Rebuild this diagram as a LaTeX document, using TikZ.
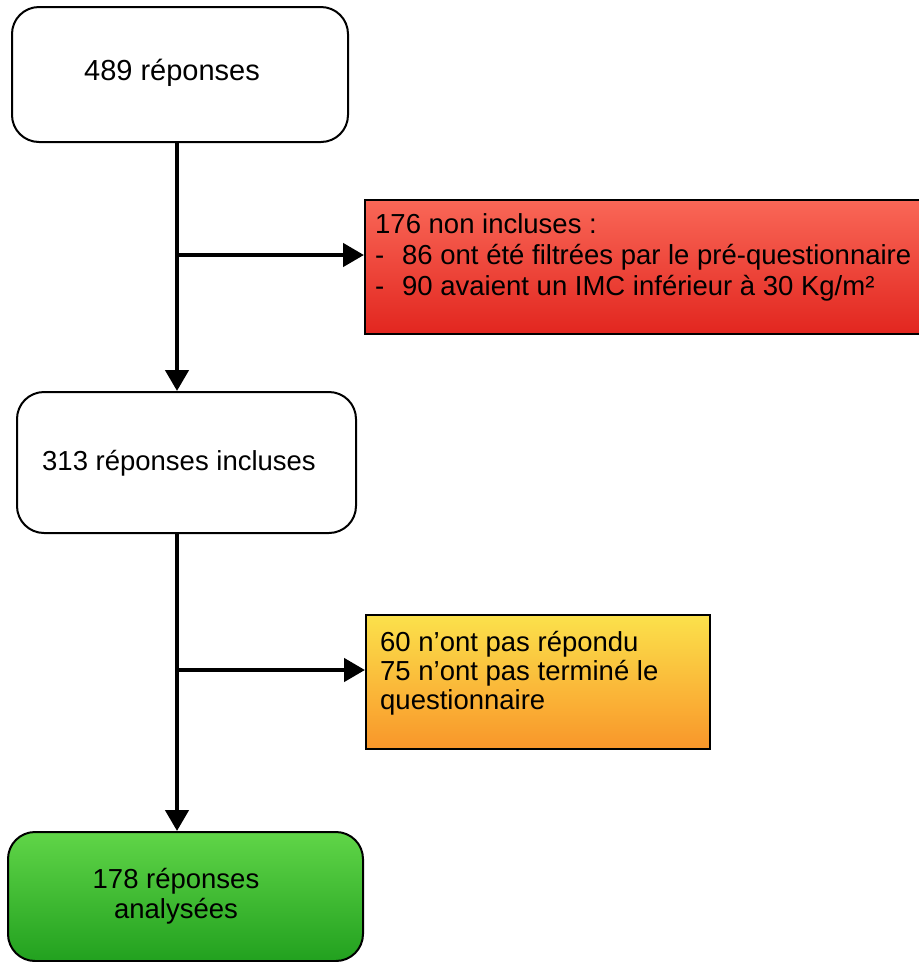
\documentclass[tikz,border=0pt]{standalone}
\usepackage{fontspec}
\setmainfont{Liberation Sans}
\usetikzlibrary{arrows.meta,shadings}
\definecolor{redtop}{HTML}{F96757}
\definecolor{redbot}{HTML}{E2261F}
\definecolor{orgtop}{HTML}{FBE14B}
\definecolor{orgbot}{HTML}{F9962A}
\definecolor{grntop}{HTML}{60D548}
\definecolor{grnbot}{HTML}{22A11F}
\tikzset{
  box/.style={draw=black, line width=2pt, rectangle, inner sep=0pt},
  roundbox/.style={box, rounded corners=27pt, fill=white},
  redbox/.style={box, top color=redtop, bottom color=redbot},
  orgbox/.style={box, top color=orgtop, bottom color=orgbot},
  grnbox/.style={box, rounded corners=27pt, top color=grntop, bottom color=grnbot},
  lbl/.style={font=\fontsize{27.5}{31}\selectfont, inner sep=0pt, anchor=base},
  lblw/.style={lbl, anchor=base west},
  flow/.style={line width=4.5pt, -{Triangle[length=21pt,width=23pt]}},
}
\begin{document}
\begin{tikzpicture}[x=1pt,y=-1pt]
\useasboundingbox (0,0) rectangle (919,962);
% boxes
\node[roundbox, minimum width=336pt, minimum height=135pt] (b1) at (180,74.5) {};
\node[roundbox, minimum width=339pt, minimum height=141pt] (b2) at (186.5,462.5) {};
\node[grnbox, minimum width=355pt, minimum height=129pt] (b3) at (185.5,896.5) {};
\node[redbox, minimum width=565pt, minimum height=134pt] (red) at (647.5,267) {};
\node[orgbox, minimum width=344pt, minimum height=134pt] (org) at (538,682) {};
% texts
\node[lbl, font=\fontsize{29}{31}\selectfont] (t1) at (172,80) {489 réponses};
\node[lbl] (t2) at (179,470) {313 réponses incluses};
\node[lbl] (t3a) at (176,888) {178 réponses};
\node[lbl] (t3b) at (176,918) {analysées};
\node[lblw] (r1) at (375,233) {176 non incluses :};
\node[lblw] (r2) at (375,264) {\makebox[27pt][l]{-}86 ont été filtrées par le pré-questionnaire};
\node[lblw] (r3) at (375,295) {\makebox[27pt][l]{-}90 avaient un IMC inférieur à 30 Kg/m²};
\node[lblw] (o1) at (380,651) {60 n’ont pas répondu};
\node[lblw] (o2) at (380,680) {75 n’ont pas terminé le};
\node[lblw] (o3) at (380,709) {questionnaire};
% connectors
\coordinate (spine) at (177,0);
\coordinate (j1) at (177,255);
\coordinate (j2) at (177,670);
\draw[flow] (b1.south -| spine) -- (b2.north -| spine);
\draw[flow] (j1) -- (j1 -| red.west);
\draw[flow] (b2.south -| spine) -- (b3.north -| spine);
\draw[flow] (j2) -- (j2 -| org.west);
\end{tikzpicture}
\end{document}
